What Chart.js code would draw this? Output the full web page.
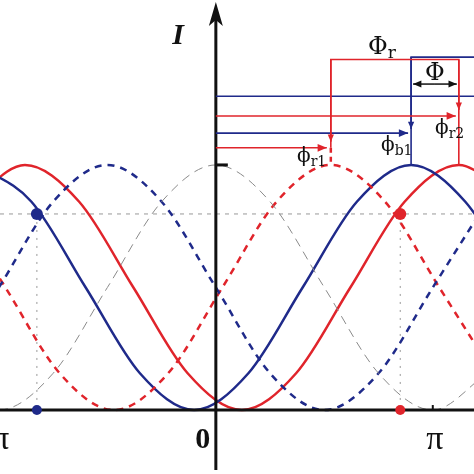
<!DOCTYPE html>
<html>
<head>
<meta charset="utf-8">
<script src="https://cdn.jsdelivr.net/npm/chart.js@4"></script>
<style>
  html, body { margin: 0; padding: 0; background: #fff; }
  #wrap { width: 474px; height: 474px; }
</style>
</head>
<body>
<div id="wrap"><canvas id="chart" width="474" height="474"></canvas></div>
<script>
// x in units of pi, intensity normalised to 1
const grayX = [-1.25, -1, -0.75, -0.5, -0.25, 0, 0.25, 0.5, 0.75, 1, 1.25];
const grayY = [0.15, 0, 0.15, 0.5, 0.85, 1, 0.85, 0.5, 0.15, 0, 0.15];

const blueX = [-1.1, -0.85, -0.6, -0.35, -0.1, 0.15, 0.4, 0.65, 0.9, 1.15, 1.4];
const blueY = [1, 0.85, 0.5, 0.15, 0, 0.15, 0.5, 0.85, 1, 0.85, 0.5];

const redX = [-1.13, -0.88, -0.63, -0.38, -0.13, 0.12, 0.37, 0.62, 0.87, 1.12, 1.37];
const redY = [0.85, 1, 0.85, 0.5, 0.15, 0, 0.15, 0.5, 0.85, 1, 0.85];

const blueDashX = [-1.25, -1, -0.75, -0.5, -0.25, 0, 0.25, 0.5, 0.75, 1, 1.25];
const blueDashY = [0.15, 0.5, 0.85, 1, 0.85, 0.5, 0.15, 0, 0.15, 0.5, 0.85];

const redDashX = [-1.22, -0.97, -0.72, -0.47, -0.22, 0.03, 0.28, 0.53, 0.78, 1.03, 1.28];
const redDashY = [0.85, 0.5, 0.15, 0, 0.15, 0.5, 0.85, 1, 0.85, 0.5, 0.15];

const markX = [-0.825, 0.85];   // blue, red points on the 0.8 level
const markLevel = 0.8;
const tickLabels = ['-π', '0', 'π'];
const tickValues = [-1, 0, 1];

// annotation levels (intensity units) and peaks used for phase arrows
const levels = { blueTop: 1.44, redTop: 1.43, blueLine: 1.28, phi: 1.33, r2: 1.20, b1: 1.13, r1: 1.07 };
const peaks = { r1: 0.53, b1: 0.9, r2: 1.12 };

const BLUE = '#1f2a8a';
const RED = '#e0242b';

const pts = (xs, ys) => xs.map((x, i) => ({ x, y: ys[i] }));

function arrow(ctx, x1, y1, x2, y2, size) {
    const a = Math.atan2(y2 - y1, x2 - x1);
    ctx.beginPath();
    ctx.moveTo(x1, y1); ctx.lineTo(x2, y2); ctx.stroke();
    ctx.beginPath();
    ctx.moveTo(x2, y2);
    ctx.lineTo(x2 - size * Math.cos(a - 0.4), y2 - size * Math.sin(a - 0.4));
    ctx.lineTo(x2 - size * Math.cos(a + 0.4), y2 - size * Math.sin(a + 0.4));
    ctx.closePath(); ctx.fill();
}

function label(ctx, main, sub, x, y, color, size) {
    ctx.fillStyle = color;
    ctx.font = size + 'px "DejaVu Serif"';
    ctx.textBaseline = 'alphabetic';
    ctx.textAlign = 'left';
    ctx.fillText(main, x, y);
    const w = ctx.measureText(main).width;
    ctx.font = Math.round(size * 0.7) + 'px "DejaVu Serif"';
    ctx.fillText(sub, x + w, y + 4);
}

const axesPlugin = {
    id: 'axesPlugin',
    beforeDatasetsDraw(chart) {
        const ctx = chart.ctx, xs = chart.scales.x, ys = chart.scales.y;
        const y0 = ys.getPixelForValue(0);
        const yl = ys.getPixelForValue(markLevel);
        ctx.save();
        ctx.strokeStyle = '#999'; ctx.lineWidth = 1;
        ctx.setLineDash([4, 5]);
        ctx.beginPath(); ctx.moveTo(0, yl); ctx.lineTo(chart.width, yl); ctx.stroke();
        ctx.setLineDash([2, 6]);
        markX.forEach(v => {
            const px = xs.getPixelForValue(v);
            ctx.beginPath(); ctx.moveTo(px, yl); ctx.lineTo(px, y0); ctx.stroke();
        });
        ctx.restore();
    },
    afterDatasetsDraw(chart) {
        const ctx = chart.ctx, xs = chart.scales.x, ys = chart.scales.y;
        const X = v => xs.getPixelForValue(v), Y = v => ys.getPixelForValue(v);
        const x0 = X(0), y0 = Y(0);
        ctx.save();
        ctx.setLineDash([]);
        // axes
        ctx.strokeStyle = '#111'; ctx.fillStyle = '#111'; ctx.lineWidth = 3;
        ctx.beginPath(); ctx.moveTo(0, y0); ctx.lineTo(chart.width, y0); ctx.stroke();
        ctx.beginPath(); ctx.moveTo(x0, 470); ctx.lineTo(x0, 20); ctx.stroke();
        ctx.beginPath(); ctx.moveTo(x0, 2); ctx.lineTo(x0 - 7, 26); ctx.lineTo(x0, 20); ctx.lineTo(x0 + 7, 26); ctx.closePath(); ctx.fill();
        ctx.beginPath(); ctx.moveTo(x0, Y(1)); ctx.lineTo(x0 + 12, Y(1)); ctx.stroke();
        ctx.lineWidth = 2;
        ctx.beginPath(); ctx.moveTo(X(1), y0 - 5); ctx.lineTo(X(1), y0); ctx.stroke();
        // tick labels
        ctx.textAlign = 'center'; ctx.textBaseline = 'middle';
        tickValues.forEach((v, i) => {
            const t = tickLabels[i];
            ctx.font = (t === '0' ? 'bold 30px' : '34px') + ' "Liberation Serif"';
            const px = t === '0' ? X(v) - 13 : X(v) + (v > 0 ? 2 : -4);
            ctx.fillText(t, px, y0 + 30);
        });
        ctx.font = 'italic bold 30px "Liberation Serif"';
        ctx.fillText('I', 178, 36);
        // dots
        [[markX[0], BLUE], [markX[1], RED]].forEach(([v, c]) => {
            ctx.fillStyle = c;
            [markLevel, 0].forEach(l => {
                ctx.beginPath(); ctx.arc(X(v), Y(l), l ? 6 : 5, 0, Math.PI * 2); ctx.fill();
            });
        });
        // phase annotations
        ctx.lineWidth = 1.6;
        ctx.strokeStyle = BLUE; ctx.fillStyle = BLUE;
        ctx.beginPath(); ctx.moveTo(x0, Y(levels.blueLine)); ctx.lineTo(chart.width, Y(levels.blueLine)); ctx.stroke();
        ctx.beginPath(); ctx.moveTo(X(peaks.b1), Y(levels.b1)); ctx.lineTo(X(peaks.b1), Y(levels.blueTop)); ctx.lineTo(chart.width, Y(levels.blueTop)); ctx.stroke();
        arrow(ctx, X(peaks.b1), Y(levels.blueTop), X(peaks.b1), Y(levels.b1) - 4, 8);
        arrow(ctx, x0, Y(levels.b1), X(peaks.b1) - 3, Y(levels.b1), 10);
        ctx.beginPath(); ctx.moveTo(X(peaks.b1), Y(levels.b1)); ctx.lineTo(X(peaks.b1), Y(1)); ctx.stroke();

        ctx.strokeStyle = RED; ctx.fillStyle = RED;
        ctx.beginPath(); ctx.moveTo(X(peaks.r1), Y(levels.r1)); ctx.lineTo(X(peaks.r1), Y(levels.redTop)); ctx.lineTo(X(peaks.r2), Y(levels.redTop)); ctx.lineTo(X(peaks.r2), Y(levels.r2)); ctx.stroke();
        arrow(ctx, X(peaks.r1), Y(levels.redTop), X(peaks.r1), Y(levels.r1) - 6, 8);
        arrow(ctx, X(peaks.r2), Y(levels.redTop), X(peaks.r2), Y(levels.r2) - 6, 8);
        arrow(ctx, x0, Y(levels.r1), X(peaks.r1) - 4, Y(levels.r1), 10);
        arrow(ctx, x0, Y(levels.r2), X(peaks.r2) - 3, Y(levels.r2), 10);
        ctx.beginPath(); ctx.moveTo(X(peaks.r2), Y(levels.r2)); ctx.lineTo(X(peaks.r2), Y(1)); ctx.stroke();
        ctx.lineWidth = 2.5; ctx.setLineDash([5, 4]);
        ctx.beginPath(); ctx.moveTo(X(peaks.r1), Y(levels.r1)); ctx.lineTo(X(peaks.r1), Y(1)); ctx.stroke();
        ctx.setLineDash([]);

        ctx.strokeStyle = '#111'; ctx.fillStyle = '#111'; ctx.lineWidth = 1.5;
        const pm = (X(peaks.b1) + X(peaks.r2)) / 2;
        arrow(ctx, pm, Y(levels.phi), X(peaks.b1) + 2, Y(levels.phi), 9);
        arrow(ctx, pm, Y(levels.phi), X(peaks.r2) - 2, Y(levels.phi), 9);
        ctx.font = '24px "DejaVu Serif"'; ctx.textAlign = 'center'; ctx.textBaseline = 'alphabetic';
        ctx.fillText('Φ', pm, Y(levels.phi) - 4);
        label(ctx, 'Φ', 'r', 368, 54, '#111', 24);
        label(ctx, 'ϕ', 'r2', 435, 134, '#111', 20);
        label(ctx, 'ϕ', 'b1', 381, 151, '#111', 20);
        label(ctx, 'ϕ', 'r1', 297, 162, '#111', 20);
        ctx.restore();
    }
};

const lineDs = (data, color, width, dash) => ({
    data, borderColor: color, borderWidth: width, borderDash: dash,
    pointRadius: 0, fill: false, cubicInterpolationMode: 'monotone'
});

new Chart(document.getElementById('chart'), {
    type: 'line',
    data: {
        datasets: [
            lineDs(pts(grayX, grayY), '#8a8a8a', 1, [9, 6]),
            lineDs(pts(blueDashX, blueDashY), BLUE, 2.5, [7, 6]),
            lineDs(pts(redDashX, redDashY), RED, 2.5, [7, 6]),
            lineDs(pts(blueX, blueY), BLUE, 2.5, []),
            lineDs(pts(redX, redY), RED, 2.5, [])
        ]
    },
    options: {
        responsive: false,
        animation: false,
        layout: { padding: 0 },
        plugins: { legend: { display: false }, tooltip: { enabled: false } },
        scales: {
            x: { type: 'linear', min: -0.995, max: 1.19, display: false },
            y: { min: -0.261, max: 1.673, display: false }
        }
    },
    plugins: [axesPlugin]
});
</script>
</body>
</html>
